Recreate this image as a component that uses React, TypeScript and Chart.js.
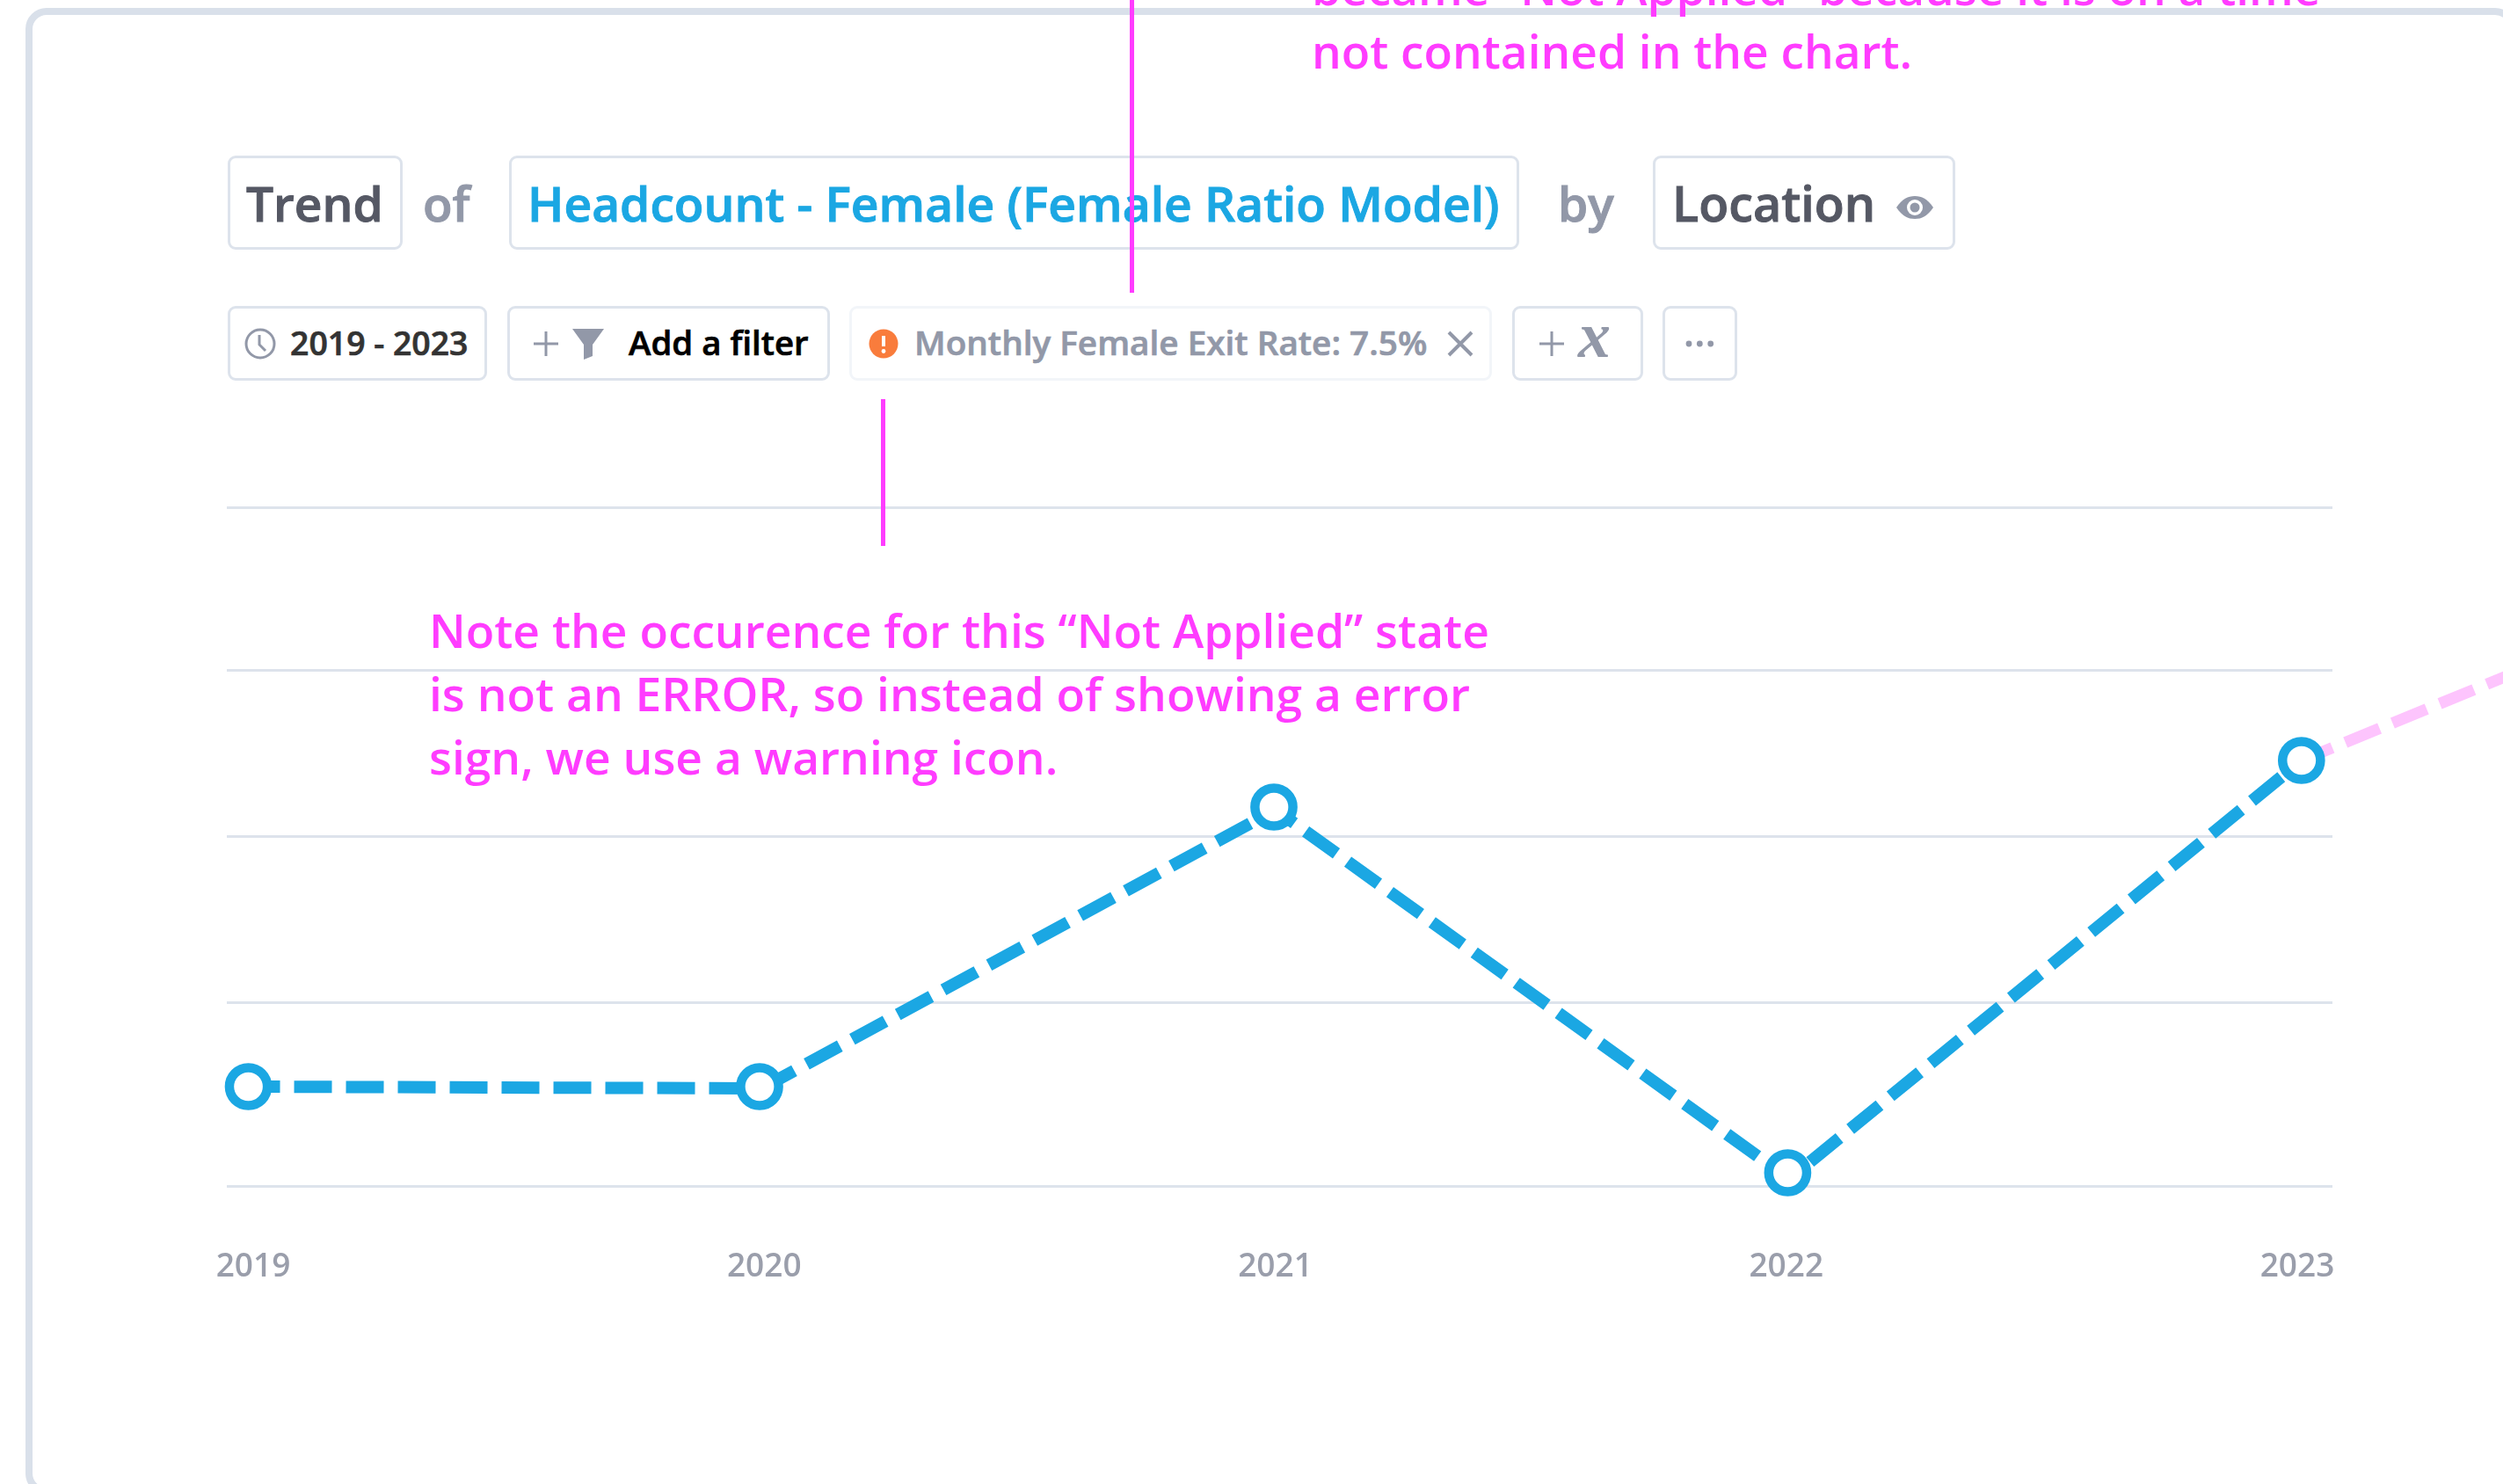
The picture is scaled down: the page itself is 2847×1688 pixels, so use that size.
import React, { useEffect, useRef } from "react";
import { Chart, registerables } from "chart.js";

Chart.register(...registerables);

const years = [2019, 2020, 2021, 2022, 2023];
const gridValues = [0, 209, 398, 587, 772];
const lineYears = [2019, 2020, 2021.001, 2022.002, 2023];
const lineValues = [113, 111, 428, 8, 484];
const markerYears = [2019, 2019.996, 2020.998, 2021.999, 2023];
const markerValues = [113, 113, 431, 15, 484];
const notAppliedYears = [2023, 2024];
const notAppliedValues = [484, 724];

const FONT = "'Open Sans', sans-serif";
const BORDER = "#dde3ec";
const GREY = "#9298a8";
const DARK = "#555864";
const BLUE = "#1ba7e3";
const MAGENTA = "#ff3cff";

function T({ x, base, size, color, weight = 600, children, family = FONT, italic = false, stroke = 0.7 }: any) {
  return (
    <div
      style={{
        position: "absolute",
        left: x,
        top: base - 0.888 * size,
        fontFamily: family,
        fontSize: size,
        lineHeight: `${size}px`,
        fontWeight: weight,
        fontStyle: italic ? "italic" : "normal",
        color,
        whiteSpace: "pre",
        WebkitTextStroke: `${stroke}px ${color}`,
      }}
    >
      {children}
    </div>
  );
}

function Box({ l, r, t, b, color = BORDER }: any) {
  return (
    <div
      style={{
        position: "absolute",
        left: l,
        top: t,
        width: r - l,
        height: b - t,
        boxSizing: "border-box",
        border: `3px solid ${color}`,
        borderRadius: 9,
        background: "#fff",
      }}
    />
  );
}

function VLine({ x, y1, y2 }: any) {
  return <div style={{ position: "absolute", left: x - 2.5, top: y1, width: 5, height: y2 - y1, background: MAGENTA }} />;
}

function Plus({ cx, cy }: any) {
  return (
    <svg style={{ position: "absolute", left: cx - 16, top: cy - 16 }} width={32} height={32}>
      <path d="M16 2V30M2 16H30" stroke={GREY} strokeWidth={3} fill="none" />
    </svg>
  );
}

export default function App() {
  const ref = useRef<HTMLCanvasElement>(null);

  useEffect(() => {
    const chart = new Chart(ref.current!, {
      type: "line",
      data: {
        datasets: [
          {
            label: "Markers",
            data: markerYears.map((x, i) => ({ x, y: markerValues[i] })),
            showLine: false,
            pointRadius: 21.6,
            pointBorderWidth: 10.5,
            pointBackgroundColor: "#fff",
            pointBorderColor: BLUE,
            clip: false,
            order: 1,
          },
          {
            label: "Headcount - Female",
            data: lineYears.map((x, i) => ({ x, y: lineValues[i] })),
            borderColor: BLUE,
            borderWidth: 14,
            borderDash: [43, 16],
            borderDashOffset: 7,
            borderCapStyle: "butt",
            borderJoinStyle: "miter",
            pointRadius: 0,
            tension: 0,
            clip: false,
            order: 2,
          },
          {
            label: "Not Applied",
            data: notAppliedYears.map((x, i) => ({ x, y: notAppliedValues[i] })),
            borderColor: "#fdc4fd",
            borderWidth: 13,
            borderDash: [42, 16],
            borderDashOffset: 4,
            pointRadius: 0,
            tension: 0,
            clip: false,
            order: 3,
          },
        ],
      },
      options: {
        responsive: false,
        animation: false,
        devicePixelRatio: 1,
        layout: { padding: { left: 258, right: 194, top: 577, bottom: 0 } },
        plugins: { legend: { display: false }, tooltip: { enabled: false } },
        scales: {
          x: { type: "linear", display: false, min: 2018.958, max: 2023.0603 },
          xLabels: {
            type: "linear",
            position: "bottom",
            min: 2018.9484,
            max: 2023.0688,
            afterBuildTicks: (s: any) => {
              s.ticks = years.map((value) => ({ value }));
            },
            afterFit: (s: any) => {
              s.height = 339;
            },
            grid: { display: false, drawTicks: false },
            border: { display: false },
            ticks: {
              autoSkip: false,
              maxRotation: 0,
              padding: 70,
              color: "#9a9eab",
              font: { family: "'Open Sans'", size: 37, weight: 600 },
              callback: (v: any) => String(v),
            },
          },
          y: {
            type: "linear",
            min: 0,
            max: 772,
            afterBuildTicks: (s: any) => {
              s.ticks = gridValues.map((value) => ({ value }));
            },
            afterFit: (s: any) => {
              s.width = 0;
            },
            grid: { color: BORDER, lineWidth: 3, drawTicks: false },
            border: { display: false },
            ticks: { display: false },
          },
        },
      },
    } as any);
    return () => chart.destroy();
  }, []);

  return (
    <div style={{ position: "fixed", left: 0, top: 0, width: 2847, height: 1688, overflow: "hidden", background: "#fff" }}>
      <div
        style={{
          position: "absolute",
          left: 29,
          top: 9,
          width: 2833,
          height: 1691,
          boxSizing: "border-box",
          border: "8px solid #d9e0ea",
          borderRadius: 24,
        }}
      />
      <canvas ref={ref} width={2847} height={1688} style={{ position: "absolute", left: 0, top: 0, display: "block" }} />

      <Box l={259} r={458} t={177} b={284} />
      <T x={280} base={252} size={55} color={DARK} stroke={1}>Trend</T>
      <T x={481} base={252} size={55} color={GREY} stroke={1}>of</T>
      <Box l={579} r={1728} t={177} b={284} />
      <T x={600} base={252} size={55.1} color={BLUE} stroke={1}>Headcount - Female (Female Ratio Model)</T>
      <T x={1772} base={252} size={55} color={GREY} stroke={1}>by</T>
      <Box l={1880} r={2224} t={177} b={284} />
      <T x={1902} base={252} size={55.7} color={DARK} stroke={1}>Location</T>
      <svg style={{ position: "absolute", left: 2155, top: 220 }} width={46} height={32}>
        <path d="M2 16C9 6 15 3 23 3S37 6 44 16C37 26 31 29 23 29S9 26 2 16Z" fill={GREY} />
        <circle cx={23} cy={16} r={9} fill="#fff" />
        <circle cx={23} cy={16} r={5.5} fill={GREY} />
      </svg>

      <Box l={259} r={554} t={348} b={433} />
      <svg style={{ position: "absolute", left: 277, top: 372 }} width={38} height={38}>
        <circle cx={19} cy={19} r={16} stroke={GREY} strokeWidth={3} fill="none" />
        <path d="M18 9V20L25 27" stroke={GREY} strokeWidth={3} fill="none" />
      </svg>
      <T x={330} base={404} size={37.4} color="#333">2019 - 2023</T>

      <Box l={577} r={944} t={348} b={433} />
      <Plus cx={621} cy={391} />
      <svg style={{ position: "absolute", left: 650, top: 373 }} width={38} height={38}>
        <path d="M1 1H37L24 19V32L14 36V19Z" fill={GREY} />
      </svg>
      <T x={715} base={404} size={38.4} color="#000">Add a filter</T>

      <Box l={966} r={1697} t={348} b={433} color="#f2f5f9" />
      <svg style={{ position: "absolute", left: 988, top: 374 }} width={34} height={34}>
        <circle cx={17} cy={17} r={16.5} fill="#f97c3c" />
        <path d="M17 8V20" stroke="#fff" strokeWidth={4} />
        <circle cx={17} cy={25.5} r={2.4} fill="#fff" />
      </svg>
      <T x={1040} base={404} size={38.7} color={GREY}>Monthly Female Exit Rate: 7.5%</T>
      <svg style={{ position: "absolute", left: 1645, top: 375 }} width={32} height={32}>
        <path d="M3 3L29 29M29 3L3 29" stroke={GREY} strokeWidth={4} fill="none" />
      </svg>

      <Box l={1720} r={1869} t={348} b={433} />
      <Plus cx={1765} cy={391} />
      <T x={1795} base={409.4} size={74} color={GREY} weight={700} italic stroke={0} family="'Liberation Serif', serif">x</T>

      <Box l={1891} r={1976} t={348} b={433} />
      <svg style={{ position: "absolute", left: 1913, top: 384 }} width={40} height={14}>
        <circle cx={8} cy={7} r={3.4} fill={GREY} />
        <circle cx={20.3} cy={7} r={3.4} fill={GREY} />
        <circle cx={32.7} cy={7} r={3.4} fill={GREY} />
      </svg>

      <T x={1492} base={6} size={53.2} color={MAGENTA} stroke={0}>became “Not Applied” because it is on a time</T>
      <T x={1492} base={78} size={53.2} color={MAGENTA} stroke={0}>not contained in the chart.</T>
      <VLine x={1287} y1={0} y2={333} />
      <VLine x={1004} y1={454} y2={621} />
      <T x={488} base={737} size={53.3} color={MAGENTA} stroke={0}>Note the occurence for this “Not Applied” state</T>
      <T x={488} base={809} size={53.3} color={MAGENTA} stroke={0}>is not an ERROR, so instead of showing a error</T>
      <T x={488} base={881} size={53.3} color={MAGENTA} stroke={0}>sign, we use a warning icon.</T>
    </div>
  );
}
